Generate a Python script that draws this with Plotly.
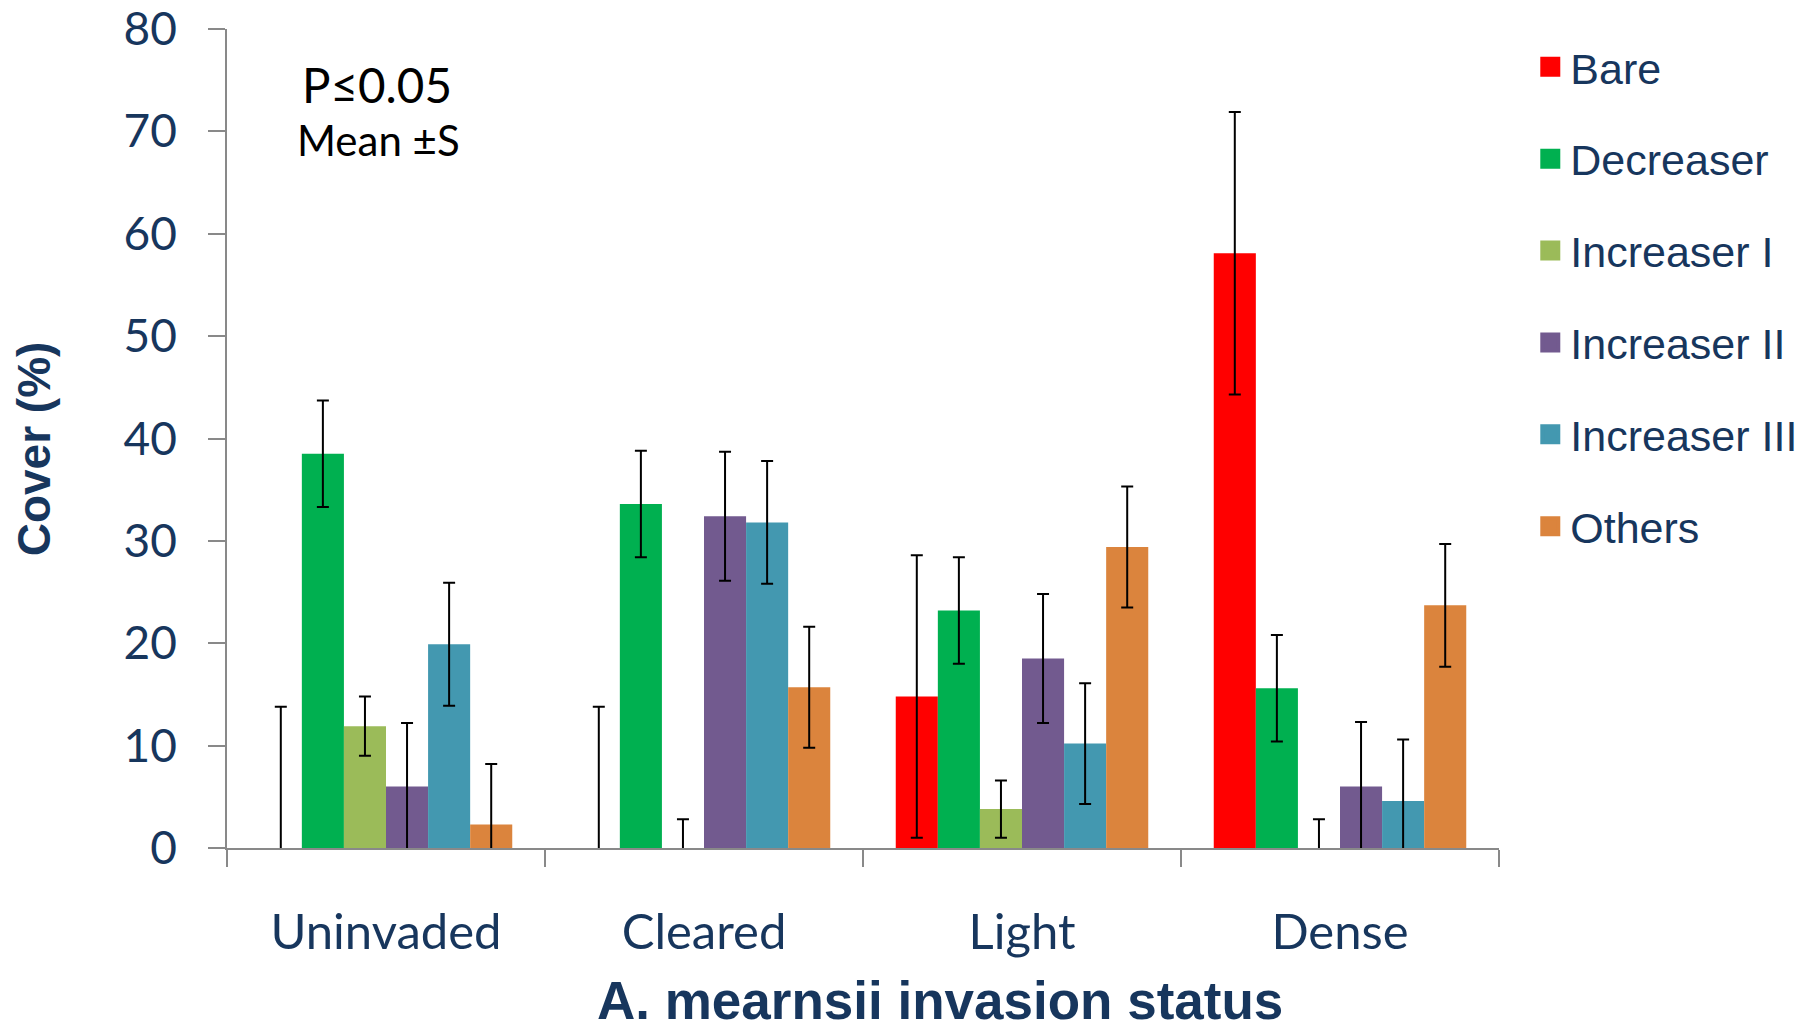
import plotly.graph_objects as go

categories = ["Uninvaded", "Cleared", "Light", "Dense"]
series_names = ["Bare", "Decreaser", "Increaser I", "Increaser II", "Increaser III", "Others"]

bare = [0, 0, 14.8, 58.1]
bare_err = [13.8, 13.8, 13.8, 13.8]
decreaser = [38.5, 33.6, 23.2, 15.6]
decreaser_err = [5.2, 5.2, 5.2, 5.2]
increaser1 = [11.9, 0, 3.8, 0]
increaser1_err = [2.9, 2.8, 2.8, 2.8]
increaser2 = [6.0, 32.4, 18.5, 6.0]
increaser2_err = [6.2, 6.3, 6.3, 6.3]
increaser3 = [19.9, 31.8, 10.2, 4.6]
increaser3_err = [6.0, 6.0, 5.9, 6.0]
others = [2.3, 15.7, 29.4, 23.7]
others_err = [5.9, 5.9, 5.9, 6.0]

values = [bare, decreaser, increaser1, increaser2, increaser3, others]
errors = [bare_err, decreaser_err, increaser1_err, increaser2_err, increaser3_err, others_err]
colors = ["#FF0000", "#00B050", "#9BBB59", "#725A8F", "#4398B0", "#DB843D"]

NAVY = "#17365D"
AXIS_GREY = "#898989"

fig = go.Figure()
for name, vals, errs, col in zip(series_names, values, errors, colors):
    fig.add_trace(go.Bar(
        x=categories, y=vals, name=name, showlegend=False,
        marker=dict(color=col, line=dict(width=0)),
        error_y=dict(type="data", array=errs, visible=True,
                     color="black", thickness=2, width=6),
    ))

# legend entries (square swatches)
for i, (name, col) in enumerate(zip(series_names, colors)):
    fig.add_trace(go.Scatter(
        x=[None], y=[None], mode="markers", name=name,
        legendgroup="g%d" % i,
        marker=dict(symbol="square", size=16, color=col,
                    line=dict(color=col, width=4)),
    ))

fig.update_layout(
    width=1813, height=1025,
    margin=dict(l=227, r=314, t=29, b=177, autoexpand=False),
    paper_bgcolor="white", plot_bgcolor="white",
    barmode="group", bargap=0.206, bargroupgap=0,
    font=dict(family="Lato", color=NAVY),
    legend=dict(
        x=1.0246, y=0.996, xanchor="left", yanchor="top",
        font=dict(family="Liberation Sans, Arial", size=43, color=NAVY),
        tracegroupgap=33, bgcolor="rgba(0,0,0,0)",
    ),
)

fig.update_xaxes(
    type="category", showline=True, linecolor=AXIS_GREY, linewidth=1.75,
    ticks="outside", tickson="boundaries", ticklen=17, tickcolor=AXIS_GREY,
    tickwidth=1.75, showgrid=False, zeroline=False,
    tickfont=dict(family="Lato", size=49, color=NAVY),
    ticklabelstandoff=40,
)
fig.update_yaxes(
    range=[0, 80], dtick=10, showline=True, linecolor=AXIS_GREY, linewidth=1.75,
    ticks="outside", ticklen=17, tickcolor=AXIS_GREY, tickwidth=1.75,
    showgrid=False, zeroline=False,
    tickfont=dict(family="Lato", size=46, color=NAVY),
    ticklabelstandoff=22,
)

fig.add_annotation(
    text="A. mearnsii invasion status", xref="paper", yref="paper",
    x=0.5608, y=-0.1863, xanchor="center", yanchor="middle", showarrow=False,
    font=dict(family="Liberation Sans, Arial", size=53, color=NAVY, weight="bold"),
)
fig.add_annotation(
    text="Cover (%)", xref="paper", yref="paper", textangle=-90,
    x=-0.152, y=0.4876, xanchor="center", yanchor="middle", showarrow=False,
    font=dict(family="Liberation Sans, Arial", size=46, color=NAVY, weight="bold"),
)
fig.add_annotation(
    text="P≤0.05", xref="paper", yref="paper",
    x=0.1182, y=0.9325, xanchor="center", yanchor="middle", showarrow=False,
    font=dict(family="Lato", size=47.5, color="black"),
)
fig.add_annotation(
    text="Mean ±S", xref="paper", yref="paper",
    x=0.1190, y=0.8642, xanchor="center", yanchor="middle", showarrow=False,
    font=dict(family="Lato", size=42, color="black"),
)

fig.write_html(
    "out.html",
    config={"displayModeBar": False},
    post_script="document.body.style.margin='0';document.body.style.overflow='hidden';",
)
